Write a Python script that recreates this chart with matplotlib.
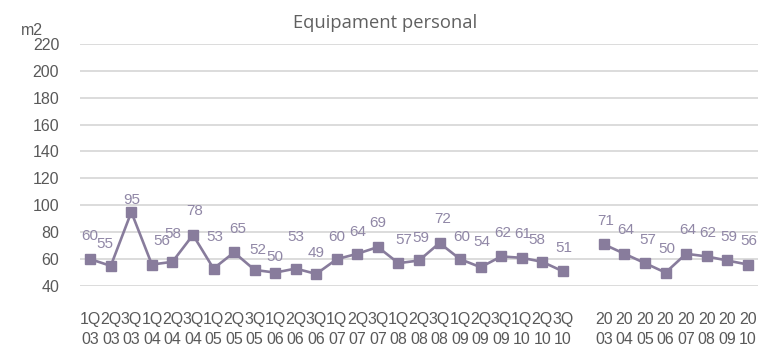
import numpy as np
import matplotlib
matplotlib.use("Agg")
import matplotlib.pyplot as plt

plt.rcParams['font.family'] = ['Liberation Sans', 'DejaVu Sans']

# quarterly series, gap, then yearly series
quarters = ['1Q\n03', '2Q\n03', '3Q\n03', '1Q\n04', '2Q\n04', '3Q\n04',
            '1Q\n05', '2Q\n05', '3Q\n05', '1Q\n06', '2Q\n06', '3Q\n06',
            '1Q\n07', '2Q\n07', '3Q\n07', '1Q\n08', '2Q\n08', '3Q\n08',
            '1Q\n09', '2Q\n09', '3Q\n09', '1Q\n10', '2Q\n10', '3Q\n10']
q_values = [60, 55, 95, 56, 58, 78, 53, 65, 52, 50, 53, 49,
            60, 64, 69, 57, 59, 72, 60, 54, 62, 61, 58, 51]
years = ['20\n03', '20\n04', '20\n05', '20\n06', '20\n07', '20\n08', '20\n09', '20\n10']
y_values = [71, 64, 57, 50, 64, 62, 59, 56]

line_col = '#887c9c'
text_col = '#595959'

# label offsets in points (dx, dy), mostly plain "above"
q_off = [(0, 17), (-4, 16), (0, 9), (7, 17), (0, 20), (1, 17), (1, 23), (3, 17),
         (2, 14), (0, 11), (0, 23), (0, 15), (0, 16), (0, 16), (0, 17), (4, 17),
         (1, 16), (2, 17), (1, 16), (1, 18), (1, 17), (1, 17), (-4, 16), (1, 17)]
y_off = [(1, 17), (1, 17), (2, 17), (1, 17), (1, 17), (1, 17), (1, 17), (1, 17)]

fig = plt.figure(figsize=(7.58, 3.48), dpi=100)
ax = fig.add_axes([0.1055, 0.178, 0.8945, 0.696])

xq = np.arange(len(quarters))
xy = np.arange(len(years)) + len(quarters) + 1

for xs, vals, offs in [(xq, q_values, q_off), (xy, y_values, y_off)]:
    ax.plot(xs, vals, color=line_col, lw=1.9, marker='s', ms=6.5, zorder=3)
    for x, v, o in zip(xs, vals, offs):
        ax.annotate(str(v), (x, v), xytext=o, textcoords='offset points',
                    ha='center', va='center', fontsize=11, color='#9087a6')

ax.set_xlim(-0.5, len(quarters) + len(years) + 0.5)
ax.set_ylim(40, 220)
ax.set_yticks(np.arange(40, 221, 20))
ax.set_xticks(list(xq) + list(xy))
ax.set_xticklabels(quarters + years, linespacing=1.35)
ax.grid(axis='y', color='#d9d9d9', lw=1.3)
ax.set_axisbelow(True)
for s in ax.spines.values():
    s.set_visible(False)
ax.tick_params(axis='both', length=0, labelsize=11.5, colors=text_col)
ax.tick_params(axis='x', pad=19)
ax.tick_params(axis='y', pad=15)

fig.text(0.508, 0.935, 'Equipament personal', ha='center', va='center',
         fontsize=13.2, color='#606060', family='Open Sans')
fig.text(0.027, 0.912, 'm2', ha='left', va='center', fontsize=11.5, color=text_col)

fig.savefig('out.png', dpi=100)
